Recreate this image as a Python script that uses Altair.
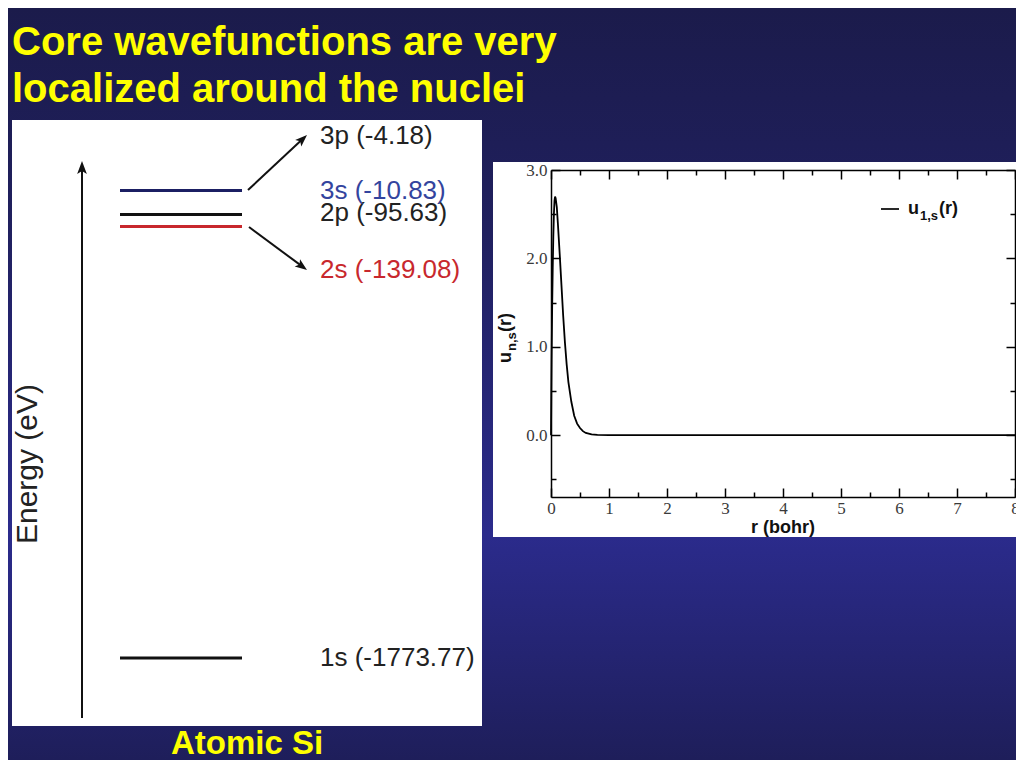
import math
import altair as alt
import pandas as pd

# ---------------- data ----------------
level_names = ["1s", "2s", "2p", "3s", "3p"]
level_energies = [-1773.77, -139.08, -95.63, -10.83, -4.18]
drawn_levels = ["1s", "2s", "2p", "3s"]
line_colors = ["#111111", "#c8282d", "#111111", "#1b1f63"]
label_colors = ["#222222", "#c8282d", "#222222", "#33449e", "#222222"]

r_bohr = [0.0, 0.005, 0.01, 0.02, 0.03, 0.04, 0.05, 0.06, 0.07, 0.08, 0.10, 0.12,
          0.15, 0.18, 0.21, 0.24, 0.27, 0.30, 0.35, 0.40, 0.45, 0.50, 0.55, 0.60,
          0.70, 0.80, 1.0, 2.0, 3.0, 4.0, 5.0, 6.0, 7.0, 8.0]
u_1s = [0.0, 0.45, 0.85, 1.45, 1.9, 2.25, 2.5, 2.65, 2.7, 2.68, 2.58, 2.38,
        2.05, 1.7, 1.35, 1.05, 0.8, 0.6, 0.38, 0.22, 0.13, 0.08, 0.045, 0.025,
        0.008, 0.002, 0.0, 0.0, 0.0, 0.0, 0.0, 0.0, 0.0, 0.0]

x_ticks = [0, 1, 2, 3, 4, 5, 6, 7, 8]
x_minor = [0.5, 1.5, 2.5, 3.5, 4.5, 5.5, 6.5, 7.5]
y_ticks = [0.0, 1.0, 2.0, 3.0]
y_minor = [-0.5, 0.5, 1.5, 2.5]
x_domain = [0, 8]
y_domain = [-0.7, 3.0]

title_lines = ["Core wavefunctions are very", "localized around the nuclei"]
caption = "Atomic Si"

# ---------------- layout helpers ----------------
W, H = 1008, 752


def X(v):
    return v - 8


def Y(v):
    return v - 8


one = pd.DataFrame({"k": [0]})
levels = pd.DataFrame({"name": level_names, "energy": level_energies})
levels["label"] = [f"{n} ({e:.2f})" for n, e in zip(level_names, level_energies)]
wave = pd.DataFrame({"r": r_bohr, "u": u_1s})

SANS = "Liberation Sans"
SERIF = "Liberation Serif"


def txt(s, x, y, size, color, weight="normal", font=SANS, align="left",
        baseline="alphabetic", angle=0):
    return alt.Chart(one).mark_text(
        text=s, font=font, fontSize=size, fontWeight=weight, color=color,
        align=align, baseline=baseline, angle=angle
    ).encode(x=alt.value(x), y=alt.value(y))


def seg(x1, y1, x2, y2, color="#111111", width=2.0):
    return alt.Chart(one).mark_rule(color=color, strokeWidth=width).encode(
        x=alt.value(x1), y=alt.value(y1), x2=alt.value(x2), y2=alt.value(y2))


HEAD = "M0,-1L0.75,1L0,0.55L-0.75,1Z"


def arrow(x1, y1, xt, yt, length=12, color="#111111", width=2.0):
    dx, dy = xt - x1, yt - y1
    d = math.hypot(dx, dy)
    ux, uy = dx / d, dy / d
    cx, cy = xt - ux * length / 2, yt - uy * length / 2
    ang = math.degrees(math.atan2(ux, -uy)) % 360
    head = alt.Chart(one).mark_point(
        shape=HEAD, filled=True, color=color, opacity=1, size=length * length,
        angle=ang, strokeWidth=0
    ).encode(x=alt.value(cx), y=alt.value(cy))
    return [seg(x1, y1, cx, cy, color, width), head]


# ---------------- background & panels ----------------
bg = alt.Chart(one).mark_rect(
    fill=alt.Gradient(
        gradient="linear", x1=0, x2=0, y1=0, y2=1,
        stops=[alt.GradientStop(color="#1b1b4b", offset=0),
               alt.GradientStop(color="#20205f", offset=0.3),
               alt.GradientStop(color="#2b2b8c", offset=0.7),
               alt.GradientStop(color="#1e1e5a", offset=1)]
    )
).encode(x=alt.value(0), x2=alt.value(W), y=alt.value(0), y2=alt.value(H))

left_panel = alt.Chart(one).mark_rect(color="white").encode(
    x=alt.value(X(12)), x2=alt.value(X(482)), y=alt.value(Y(120)), y2=alt.value(Y(726)))
right_panel = alt.Chart(one).mark_rect(color="white").encode(
    x=alt.value(X(493)), x2=alt.value(W), y=alt.value(Y(162)), y2=alt.value(Y(537)))

# ---------------- titles ----------------
title1 = txt(title_lines[0], X(12), Y(55), 40, "#ffff00", "bold")
title2 = txt(title_lines[1], X(12), Y(102), 40, "#ffff00", "bold")
cap = txt(caption, X(247), Y(754), 33, "#ffff00", "bold", align="center")

# ---------------- energy diagram ----------------
energy_title = txt("Energy (eV)", X(28), Y(464), 30, "#222222", angle=270,
                   align="center", baseline="middle")
energy_axis = arrow(X(82), Y(718), X(82), Y(161), length=13)
arrow_up = arrow(X(248), Y(190), X(307), Y(135), length=12)
arrow_dn = arrow(X(249), Y(227), X(307), Y(270), length=12)

drawn_df = levels[levels["name"].isin(drawn_levels)].sort_values("energy")
line_pos = {"1s": Y(658), "2s": Y(226.5), "2p": Y(214.5), "3s": Y(190.5)}
label_pos = {"1s": Y(658), "2s": Y(270), "2p": Y(213), "3s": Y(191), "3p": Y(136)}
lv_sorted = levels.sort_values("energy")

level_lines = alt.Chart(drawn_df).mark_rule(strokeWidth=3).encode(
    y=alt.Y("energy:Q", axis=None,
            scale=alt.Scale(domain=list(drawn_df["energy"]),
                            range=[line_pos[n] for n in drawn_df["name"]],
                            nice=False, zero=False)),
    x=alt.value(X(120)), x2=alt.value(X(242)),
    color=alt.Color("name:N", legend=None,
                    scale=alt.Scale(domain=drawn_levels, range=line_colors)),
)

level_labels = alt.Chart(levels).mark_text(
    font=SANS, fontSize=26, align="left", baseline="middle"
).encode(
    y=alt.Y("energy:Q", axis=None,
            scale=alt.Scale(domain=list(lv_sorted["energy"]),
                            range=[label_pos[n] for n in lv_sorted["name"]],
                            nice=False, zero=False)),
    x=alt.value(X(320)),
    text="label:N",
    color=alt.Color("name:N", legend=None,
                    scale=alt.Scale(domain=level_names, range=label_colors)),
)

# ---------------- wavefunction plot ----------------
xs = alt.Scale(domain=x_domain, range=[X(551), X(1015)], nice=False, zero=False)
ys = alt.Scale(domain=y_domain, range=[Y(497), Y(170)], nice=False, zero=False)
ax = dict(domainColor="black", domainWidth=1.5, tickColor="black", tickWidth=1.5,
          grid=False, title=None, zindex=5)
lab = dict(labelFont=SERIF, labelFontSize=17, labelColor="#3a3a3a")
BOT = Y(497) - H
LEFT = -X(551)
TOP = -Y(170)
RIGHT = X(1015) - W

wave_main = alt.Chart(wave).mark_line(color="black", strokeWidth=1.8).encode(
    x=alt.X("r:Q", scale=xs, axis=alt.Axis(
        orient="bottom", offset=BOT, values=x_ticks, format="d", labelFlush=False,
        labelPadding=12, tickSize={"expr": "-9"}, **lab, **ax)),
    y=alt.Y("u:Q", scale=ys, axis=alt.Axis(
        orient="left", offset=LEFT, values=y_ticks, format=".1f", labelFlush=False,
        labelPadding=13, tickSize={"expr": "-9"}, **lab, **ax)),
)
wave_mirror = alt.Chart(wave).mark_line(opacity=0).encode(
    x=alt.X("r:Q", scale=xs, axis=alt.Axis(
        orient="top", offset=TOP, values=x_ticks, labels=False,
        tickSize={"expr": "-9"}, **ax)),
    y=alt.Y("u:Q", scale=ys, axis=alt.Axis(
        orient="right", offset=RIGHT, values=y_ticks, labels=False,
        tickSize={"expr": "-9"}, **ax)),
)
ax_minor = dict(ax, domain=False)
wave_minor1 = alt.Chart(wave).mark_line(opacity=0).encode(
    x=alt.X("r:Q", scale=xs, axis=alt.Axis(
        orient="bottom", offset=BOT, values=x_minor, labels=False,
        tickSize={"expr": "-5"}, **ax_minor)),
    y=alt.Y("u:Q", scale=ys, axis=alt.Axis(
        orient="left", offset=LEFT, values=y_minor, labels=False,
        tickSize={"expr": "-5"}, **ax_minor)),
)
wave_minor2 = alt.Chart(wave).mark_line(opacity=0).encode(
    x=alt.X("r:Q", scale=xs, axis=alt.Axis(
        orient="top", offset=TOP, values=x_minor, labels=False,
        tickSize={"expr": "-5"}, **ax_minor)),
    y=alt.Y("u:Q", scale=ys, axis=alt.Axis(
        orient="right", offset=RIGHT, values=y_minor, labels=False,
        tickSize={"expr": "-5"}, **ax_minor)),
)

x_title = txt("r (bohr)", X(783), Y(528), 18, "#111111", "bold",
              align="center", baseline="middle")
y_t1 = txt("u", X(511), Y(363), 18, "#111111", "bold", angle=270)
y_t2 = txt("n,s", X(516), Y(351), 13, "#111111", "bold", angle=270)
y_t3 = txt("(r)", X(511), Y(332), 18, "#111111", "bold", angle=270)

leg_line = seg(X(881), Y(209), X(899), Y(209), "#111111", 1.8)
leg_u = txt("u", X(908), Y(214), 18, "#111111", "bold")
leg_sub = txt("1,s", X(920), Y(220), 13, "#111111", "bold")
leg_r = txt("(r)", X(939), Y(214), 18, "#111111", "bold")

layers = [bg, left_panel, right_panel, title1, title2, cap, energy_title,
          *energy_axis, *arrow_up, *arrow_dn, level_lines, level_labels,
          wave_main, wave_mirror, wave_minor1, wave_minor2,
          x_title, y_t1, y_t2, y_t3, leg_line, leg_u, leg_sub, leg_r]

chart = alt.layer(*layers).properties(
    width=W, height=H, padding=0, background="#1c1c50",
    autosize=alt.AutoSizeParams(type="none")
).resolve_scale(
    x="independent", y="independent", color="independent"
).configure_view(stroke=None)

chart.save("out.html", embed_options={"renderer": "svg", "actions": False})
